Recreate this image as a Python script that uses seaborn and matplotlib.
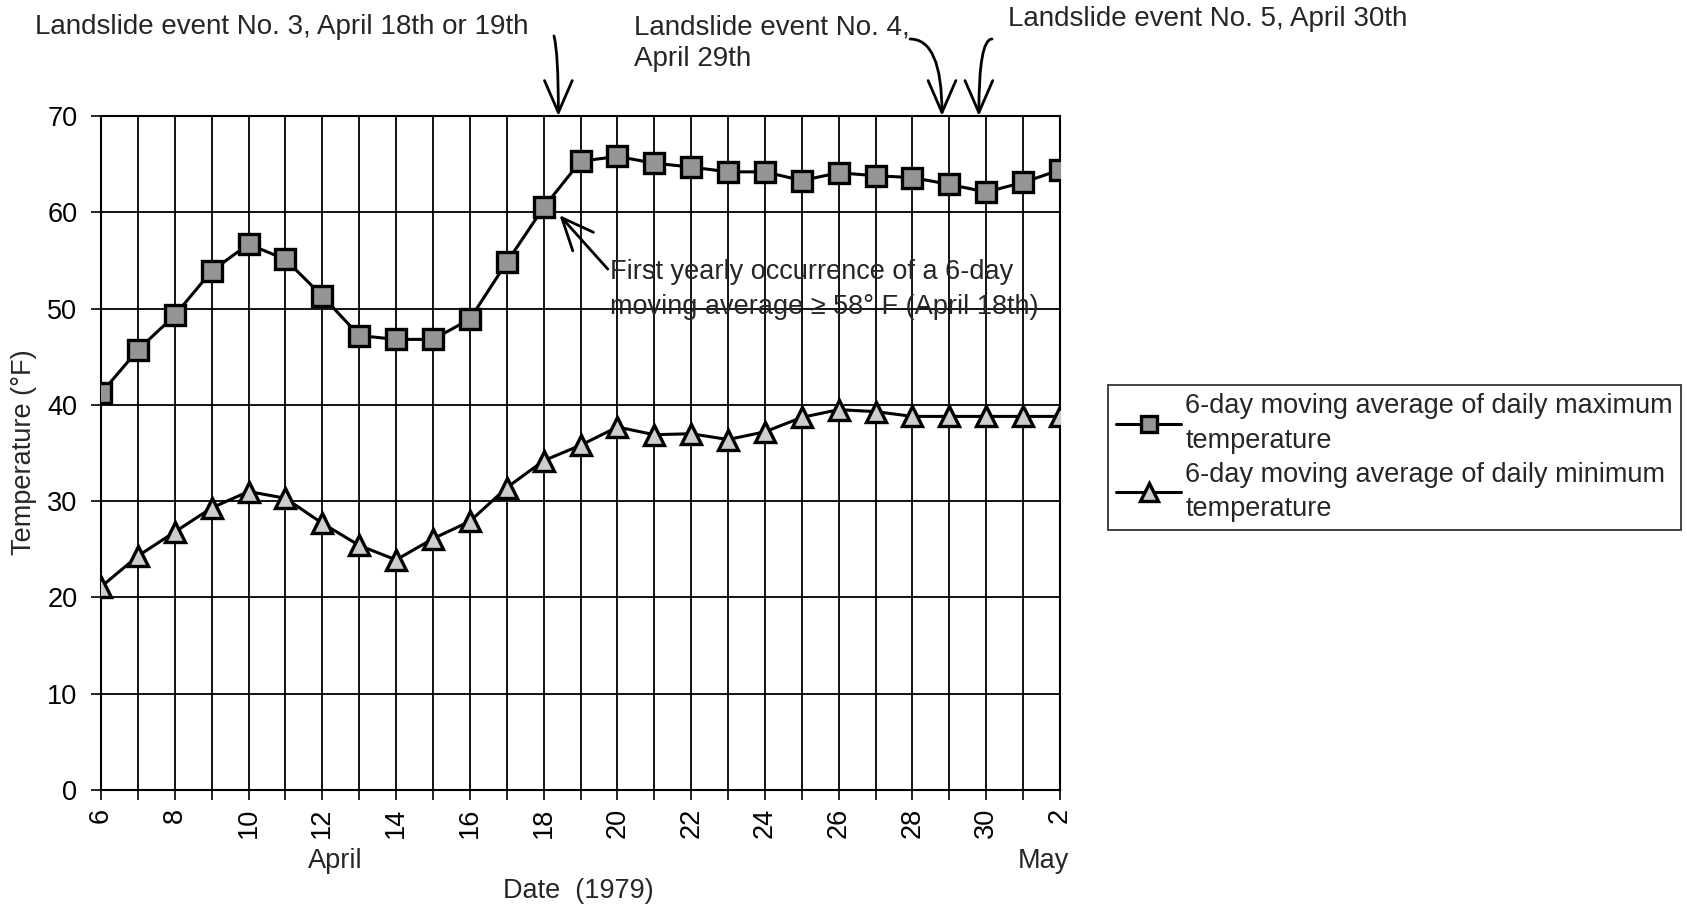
import matplotlib
matplotlib.use('Agg')
import matplotlib.pyplot as plt
import seaborn as sns
import pandas as pd
import numpy as np

# ---- data ----
days = [6, 7, 8, 9, 10, 11, 12, 13, 14, 15, 16, 17, 18, 19, 20, 21, 22, 23, 24,
        25, 26, 27, 28, 29, 30, 1, 2]
tmax = [41.2, 45.7, 49.3, 53.9, 56.7, 55.1, 51.3, 47.2, 46.8, 46.8, 48.9, 54.8,
        60.5, 65.3, 65.8, 65.1, 64.7, 64.2, 64.2, 63.3, 64.1, 63.8, 63.6, 62.9,
        62.1, 63.1, 64.4]
tmin = [21.1, 24.3, 26.8, 29.3, 31.0, 30.3, 27.7, 25.4, 23.9, 26.1, 27.9, 31.4,
        34.2, 35.8, 37.7, 36.9, 37.0, 36.4, 37.2, 38.7, 39.5, 39.3, 38.8, 38.8,
        38.8, 38.8, 38.8]
yticks = [0, 10, 20, 30, 40, 50, 60, 70]
label_max = "6-day moving average of daily maximum\ntemperature"
label_min = "6-day moving average of daily minimum\ntemperature"

sns.set_theme(style='ticks')
plt.rcParams['font.family'] = ['Liberation Sans', 'DejaVu Sans']
FS = 19.5

fig = plt.figure(figsize=(16.87, 9.11), dpi=100)
ax = fig.add_axes([101 / 1687, 1 - 790 / 911, (1060 - 101) / 1687, (790 - 116) / 911])

xpos = np.arange(len(days))
df = pd.DataFrame({'x': xpos, 'tmax': tmax, 'tmin': tmin})

sns.lineplot(data=df, x='x', y='tmax', ax=ax, color='black', lw=2.2,
             marker='s', markersize=14, markerfacecolor='#959595',
             markeredgecolor='black', markeredgewidth=2.4, label=label_max, zorder=5)
sns.lineplot(data=df, x='x', y='tmin', ax=ax, color='black', lw=2.2,
             marker='^', markersize=15, markerfacecolor='#cdcdcd',
             markeredgecolor='black', markeredgewidth=2.4, label=label_min, zorder=5)

ax.set_xlim(0, len(days) - 1)
ax.set_ylim(0, 70)
ax.set_xticks(xpos)
ax.set_xticklabels([str(d) if i % 2 == 0 else '' for i, d in enumerate(days)],
                   rotation=90, fontsize=FS)
ax.set_yticks(yticks)
ax.set_yticklabels([str(v) for v in yticks], fontsize=FS)
ax.tick_params(axis='both', direction='out', length=7, width=1.2, color='black',
               labelcolor='black')
ax.tick_params(axis='y', pad=10)
ax.tick_params(axis='x', pad=6)
ax.grid(True, color='black', lw=1.3)
ax.set_axisbelow(True)
for s in ax.spines.values():
    s.set_visible(True)
    s.set_color('black')
    s.set_linewidth(1.5)
ax.set_xlabel('')
ax.set_ylabel('')

# axis texts
fig.text(24 / 1687, 1 - 452 / 911, 'Temperature (°F)', rotation=90, ha='center',
         va='center', fontsize=FS)
fig.text(578 / 1687, 1 - 891 / 911, 'Date  (1979)', ha='center', va='center', fontsize=FS)
fig.text(335 / 1687, 1 - 861 / 911, 'April', ha='center', va='center', fontsize=FS)
fig.text(1043 / 1687, 1 - 861 / 911, 'May', ha='center', va='center', fontsize=FS)

# legend
ax.get_legend().remove()
h, l = ax.get_legend_handles_labels()
leg = fig.legend(h, l, loc='upper left', bbox_to_anchor=(1108 / 1687, 1 - 385 / 911),
                 borderaxespad=0, fontsize=FS, frameon=True, fancybox=False,
                 handlelength=2.4, handletextpad=0.15, borderpad=0.3,
                 labelspacing=0.3, edgecolor='black', markerscale=0.85)
leg.get_frame().set_linewidth(1.3)
for t in leg.get_texts():
    t.set_linespacing(1.42)

# landslide annotations
TFS = 20
fig.text(35 / 1687, 1 - 27 / 911, 'Landslide event No. 3, April 18th or 19th',
         ha='left', va='center', fontsize=TFS)
fig.text(634 / 1687, 1 - 27 / 911, 'Landslide event No. 4,', ha='left', va='center',
         fontsize=TFS)
fig.text(634 / 1687, 1 - 59 / 911, 'April 29th', ha='left', va='center', fontsize=TFS)
fig.text(1008 / 1687, 1 - 19 / 911, 'Landslide event No. 5, April 30th',
         ha='left', va='center', fontsize=TFS)

astyle = '->,head_length=1.15,head_width=0.5'
for tip_x, tail, conn in [(12.4, (554, 875), 'angle3,angleA=-75,angleB=90'),
                          (22.8, (910, 872), 'angle3,angleA=0,angleB=90'),
                          (23.8, (992, 872), 'angle3,angleA=0,angleB=90')]:
    ax.annotate('', xy=(tip_x, 70), xycoords='data', xytext=tail,
                textcoords='figure pixels', annotation_clip=False,
                arrowprops=dict(arrowstyle=astyle, connectionstyle=conn,
                                color='black', lw=2, mutation_scale=20,
                                shrinkA=0, shrinkB=0))

ax.annotate('', xy=(12.43, 59.7), xycoords='data', xytext=(13.74, 54.1),
            textcoords='data',
            arrowprops=dict(arrowstyle=astyle, color='black', lw=2, mutation_scale=20,
                            shrinkA=0, shrinkB=0), zorder=6)
ax.text(13.8, 52.0, 'First yearly occurrence of a 6-day\nmoving average ≥ 58° F (April 18th)',
        ha='left', va='center', fontsize=FS, linespacing=1.47, zorder=6)

fig.savefig('out.png', dpi=100)
